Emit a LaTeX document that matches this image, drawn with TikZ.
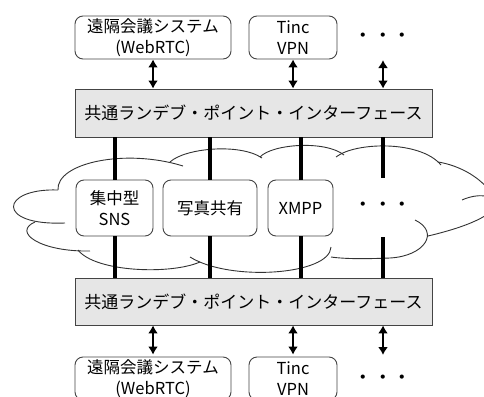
\documentclass[tikz,border=0pt]{standalone}
\usepackage{fontspec}
\setmainfont{Noto Sans CJK JP}
\usetikzlibrary{arrows.meta}
\definecolor{ifgray}{HTML}{E6E6E6}
\definecolor{edgegray}{HTML}{444444}
\tikzset{
  roundbox/.style={draw=edgegray, line width=0.9pt, rounded corners=8pt, fill=white,
    align=center, inner sep=0pt, font=\fontsize{16.5}{21}\selectfont},
  ifbox/.style={draw=edgegray, line width=0.9pt, fill=ifgray, inner sep=0pt,
    minimum width=357pt, font=\fontsize{17}{21}\selectfont},
  dblarrow/.style={line width=2.8pt, {Latex[length=8pt,width=10pt]}-{Latex[length=8pt,width=10pt]}},
  thickline/.style={line width=4pt},
  cloudline/.style={line width=0.9pt, draw=black!80},
  dotsnode/.style={inner sep=0pt, font=\fontsize{19.5}{20}\selectfont}
}
\begin{document}
\begin{tikzpicture}[x=1pt,y=-1pt]
\useasboundingbox (0,0) rectangle (484,396);
\clip (0,0) rectangle (484,396);
% cloud
\draw[cloudline] (58,190) .. controls (0,188) and (-5,226) .. (65,223);
\draw[cloudline] (58,190) .. controls (56,163) and (125,148) .. (183,166);
\draw[cloudline] (170,162) .. controls (185,148) and (240,143) .. (262,158);
\draw[cloudline] (260,157) .. controls (272,144) and (325,140) .. (344,155);
\draw[cloudline] (336,157) .. controls (355,142) and (420,140) .. (441,165);
\draw[cloudline] (438,162) .. controls (458,165) and (485,178) .. (495,200);
\draw[cloudline] (462,200) .. controls (495,185) and (530,212) .. (428,236);
\draw[cloudline] (415,220) .. controls (440,232) and (425,256) .. (390,258) .. controls (365,259) and (345,259) .. (331,257);
\draw[cloudline] (331,247) .. controls (330,275) and (230,282) .. (190,257);
\draw[cloudline] (200,262) .. controls (170,275) and (95,272) .. (78,250);
\draw[cloudline] (35,222) .. controls (12,232) and (40,252) .. (90,251);

% nodes
\node[roundbox, minimum width=156pt, minimum height=43pt] (top1) at (153,37.5) {遠隔会議システム\\(WebRTC)};
\node[roundbox, minimum width=88pt, minimum height=43pt] (top2) at (293,37.5) {Tinc\\VPN};
\node[dotsnode] (topdots) at (383,38) {・・・};
\node[ifbox, minimum height=48pt] (iftop) at (253.5,113) {共通ランデブ・ポイント・インターフェース};

\node[roundbox, minimum width=77pt, minimum height=56pt] (sns) at (114.5,208) {集中型\\SNS};
\node[roundbox, minimum width=94pt, minimum height=56pt] (photo) at (210,208) {写真共有};
\node[roundbox, minimum width=65pt, minimum height=56pt] (xmpp) at (300.5,208) {XMPP};
\node[dotsnode] (middots) at (383,207) {・・・};

\node[ifbox, minimum height=47pt] (ifbot) at (253.5,301.5) {共通ランデブ・ポイント・インターフェース};
\node[roundbox, minimum width=156pt, minimum height=43pt] (bot1) at (153,378.5) {遠隔会議システム\\(WebRTC)};
\node[roundbox, minimum width=88pt, minimum height=43pt] (bot2) at (293,378.5) {Tinc\\VPN};
\node[dotsnode] (botdots) at (383,380) {・・・};

\coordinate (c3top) at (383,60);
\coordinate (c4a) at (383,178);
\coordinate (c4b) at (383,237);
\coordinate (c3bot) at (383,355);

% arrows top
\draw[dblarrow] (top1.south) -- (top1.south |- iftop.north);
\draw[dblarrow] (top2.south) -- (top2.south |- iftop.north);
\draw[dblarrow] (c3top) -- (c3top |- iftop.north);

% thick lines
\draw[thickline] (sns.north |- iftop.south) -- (sns.north);
\draw[thickline] (photo.north |- iftop.south) -- (photo.north);
\draw[thickline] (xmpp.north |- iftop.south) -- (xmpp.north);
\draw[thickline] (c4a |- iftop.south) -- (c4a);
\draw[thickline] (sns.south) -- (sns.south |- ifbot.north);
\draw[thickline] (photo.south) -- (photo.south |- ifbot.north);
\draw[thickline] (xmpp.south) -- (xmpp.south |- ifbot.north);
\draw[thickline] (c4b) -- (c4b |- ifbot.north);

% arrows bottom
\draw[dblarrow] (bot1.north |- ifbot.south) -- ([yshift=2pt]bot1.north);
\draw[dblarrow] (bot2.north |- ifbot.south) -- ([yshift=2pt]bot2.north);
\draw[dblarrow] (c3bot |- ifbot.south) -- (c3bot);
\end{tikzpicture}
\end{document}
